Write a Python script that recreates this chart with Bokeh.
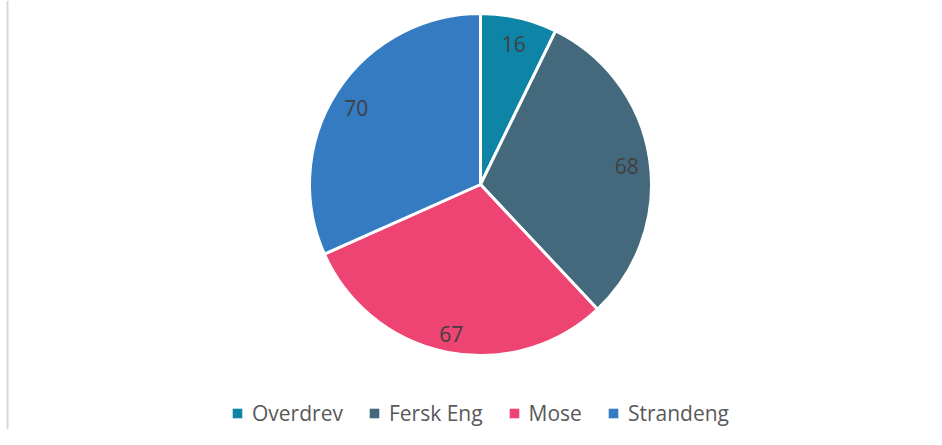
import math
from bokeh.plotting import figure
from bokeh.models import ColumnDataSource, Range1d, Legend, LegendItem
from bokeh.core.properties import value
from bokeh.embed import file_html
from bokeh.resources import INLINE

categories = ["Overdrev", "Fersk Eng", "Mose", "Strandeng"]
counts = [16, 68, 67, 70]
colors = ["#0E85A7", "#44697D", "#EE4473", "#347BC1"]

W, H = 926, 429
CX, CY = 480, 245
R = 171
LABEL_R = 148

total = sum(counts)
starts, ends, lx, ly = [], [], [], []
cum = 0
for c in counts:
    a0 = math.pi / 2 - cum / total * 2 * math.pi
    a1 = math.pi / 2 - (cum + c) / total * 2 * math.pi
    mid = (a0 + a1) / 2
    starts.append(a0)
    ends.append(a1)
    lx.append(CX + LABEL_R * math.cos(mid))
    ly.append(CY + LABEL_R * math.sin(mid))
    cum += c

src = ColumnDataSource(dict(cat=categories, val=counts, color=colors,
                            start=starts, end=ends, lx=lx, ly=ly,
                            txt=[str(v) for v in counts]))

p = figure(width=W, height=H, output_backend="svg", toolbar_location=None,
           x_range=Range1d(0, W), y_range=Range1d(0, H), min_border=0,
           tools="")
p.axis.visible = False
p.xgrid.visible = False
p.ygrid.visible = False
p.outline_line_color = None
p.background_fill_color = "white"

# left frame line
p.segment(x0=[7], y0=[0], x1=[7], y1=[H], line_color="#D9D9D9", line_width=2)

p.wedge(x=CX, y=CY, radius=R, radius_units="screen",
        start_angle="start", end_angle="end", direction="clock",
        fill_color="color", line_color="white", line_width=3,
        source=src)

p.text(x="lx", y="ly", text="txt", source=src, text_align="center",
       text_baseline="middle", text_font=value("Open Sans"),
       text_font_size="21px", text_color="#404040", y_offset=4)

# legend-only squares
items = []
for i, cat in enumerate(categories):
    r = p.rect(x=[-100], y=[-100], width=10, height=10,
               fill_color=colors[i], line_color=None)
    items.append(LegendItem(label=cat, renderers=[r]))

legend = Legend(items=items, orientation="horizontal", location=(231, 2),
                glyph_width=12, glyph_height=12, label_standoff=9,
                spacing=25, padding=0, margin=0,
                label_text_font="Open Sans", label_text_font_size="21px",
                label_text_color="#595959", border_line_color=None,
                background_fill_alpha=0)
p.add_layout(legend, "center")

open("out.html", "w").write(file_html(p, INLINE))
